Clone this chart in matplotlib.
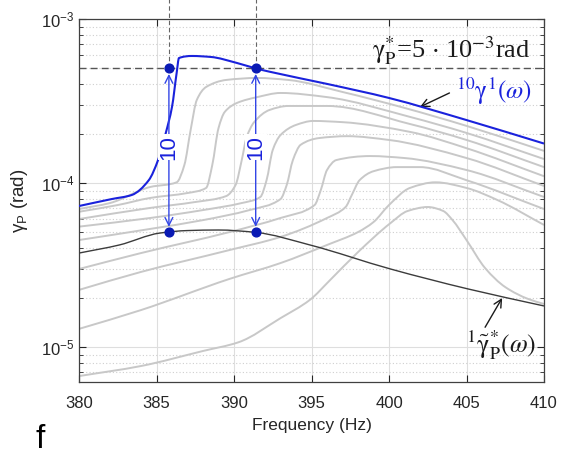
import numpy as np
import matplotlib
matplotlib.use("Agg")
import matplotlib.pyplot as plt
from matplotlib.path import Path
from matplotlib.patches import PathPatch

plt.rcParams['font.family'] = ['Liberation Sans', 'DejaVu Sans']
plt.rcParams['mathtext.fontset'] = 'custom'
plt.rcParams['mathtext.rm'] = 'Liberation Sans'
plt.rcParams['mathtext.it'] = 'Liberation Sans:italic'
plt.rcParams['mathtext.bf'] = 'Liberation Sans:bold'

# ---------------- data ----------------
f10 = [380, 382.1, 383.4, 384.5, 385.1, 385.6, 386.0, 386.3, 386.45, 387.3, 388.5, 390.2, 391.4, 392.3, 396, 400, 405, 410]
g10 = [7.24e-5, 7.98e-5, 8.45e-5, 1.04e-4, 1.38e-4, 2.02e-4, 2.91e-4, 4.69e-4, 5.78e-4, 5.95e-4, 5.87e-4, 5.39e-4, 5.0e-4, 4.77e-4, 4.02e-4, 3.30e-4, 2.42e-4, 1.74e-4]

f9 = [380, 382, 384.6, 386.3, 386.8, 387.2, 387.6, 388.2, 389.5, 391.5, 393.5, 397, 401, 405, 410]
g9 = [6.94e-5, 7.55e-5, 9.46e-5, 1.01e-4, 1.29e-4, 2.10e-4, 3.21e-4, 3.85e-4, 4.25e-4, 4.37e-4, 4.25e-4, 3.59e-4, 2.87e-4, 2.23e-4, 1.57e-4]

f8 = [380, 382.5, 384.6, 387, 388.2, 388.6, 389.0, 389.4, 390.2, 391.5, 393, 396, 401.35, 405, 410]
g8 = [6.68e-5, 7.34e-5, 8.11e-5, 8.69e-5, 9.33e-5, 1.29e-4, 2.16e-4, 2.71e-4, 3.08e-4, 3.34e-4, 3.54e-4, 3.34e-4, 2.53e-4, 2.02e-4, 1.40e-4]

f7 = [380, 384.6, 387.5, 389.5, 390.1, 390.5, 390.8, 391.3, 392.3, 393.5, 396, 401.35, 405, 410]
g7 = [6.03e-5, 7.05e-5, 7.66e-5, 8.33e-5, 9.72e-5, 1.38e-4, 1.88e-4, 2.35e-4, 2.79e-4, 2.95e-4, 2.95e-4, 2.29e-4, 1.83e-4, 1.25e-4]

f6 = [380, 384.6, 388, 390.5, 391.7, 392.1, 392.5, 393, 394, 395.1, 397, 401.35, 405, 410]
g6 = [5.42e-5, 6.12e-5, 6.84e-5, 7.55e-5, 8.22e-5, 1.04e-4, 1.59e-4, 1.96e-4, 2.26e-4, 2.39e-4, 2.35e-4, 2.05e-4, 1.63e-4, 1.10e-4]

f5 = [380, 384.6, 388, 391, 393.0, 393.4, 393.8, 394.3, 395.5, 397.3, 400, 405, 410]
g5 = [4.49e-5, 5.25e-5, 5.94e-5, 6.84e-5, 7.98e-5, 9.72e-5, 1.38e-4, 1.71e-4, 1.88e-4, 1.93e-4, 1.83e-4, 1.42e-4, 9.59e-5]

f4 = [380, 384, 389.7, 393, 395.2, 395.6, 396.0, 396.6, 398.8, 401, 405, 410]
g4 = [2.99e-5, 3.74e-5, 5.02e-5, 6.12e-5, 7.34e-5, 9.06e-5, 1.20e-4, 1.38e-4, 1.46e-4, 1.42e-4, 1.20e-4, 8.22e-5]

f3 = [380, 384, 389.7, 393, 396, 397.2, 397.6, 398.1, 399, 400.5, 402, 405, 410]
g3 = [2.23e-5, 2.87e-5, 3.90e-5, 4.69e-5, 6.12e-5, 7.14e-5, 8.45e-5, 1.04e-4, 1.18e-4, 1.25e-4, 1.25e-4, 1.04e-4, 6.94e-5]

f2 = [380, 384, 389.7, 393, 396, 398, 399, 400, 401.35, 403, 405, 407, 410]
g2 = [1.29e-5, 1.68e-5, 2.60e-5, 3.25e-5, 4.19e-5, 5.02e-5, 5.78e-5, 7.34e-5, 9.33e-5, 1.01e-4, 9.33e-5, 7.87e-5, 5.55e-5]

f1 = [380, 384, 388, 390.3, 393, 394.9, 396.2, 398, 400.1, 401.2, 402.5, 403.5, 404.1, 405, 406.2, 407.5, 409, 410]
g1 = [6.65e-6, 7.66e-6, 9.46e-6, 1.07e-5, 1.50e-5, 1.94e-5, 2.56e-5, 3.79e-5, 5.70e-5, 6.75e-5, 7.14e-5, 6.75e-5, 5.94e-5, 4.49e-5, 3.03e-5, 2.32e-5, 1.96e-5, 1.83e-5]

fk = [380, 382.6, 385.2, 387, 389, 391.4, 394.9, 400.1, 405.1, 410]
gk = [3.74e-5, 4.19e-5, 4.95e-5, 5.13e-5, 5.17e-5, 5.0e-5, 4.19e-5, 2.99e-5, 2.26e-5, 1.78e-5]

dot_f = [385.8, 391.4]
dot_hi = 5e-4
dot_lo = 5e-5

xticks = [380, 385, 390, 395, 400, 405, 410]
yticks = [1e-5, 1e-4, 1e-3]
ytick_labels = ['$10^{-5}$', '$10^{-4}$', '$10^{-3}$']


def smooth_path(fx, gy):
    """Bezier path through the read points (monotone cubic in log space)."""
    x = np.asarray(fx, float)
    y = np.log10(np.asarray(gy, float))
    h = np.diff(x)
    d = np.diff(y) / h
    m = np.zeros_like(x)
    m[0], m[-1] = d[0], d[-1]
    for k in range(1, len(x) - 1):
        if d[k - 1] * d[k] <= 0:
            m[k] = 0.0
        else:
            w1 = 2 * h[k] + h[k - 1]
            w2 = h[k] + 2 * h[k - 1]
            m[k] = (w1 + w2) / (w1 / d[k - 1] + w2 / d[k])
    verts = [(x[0], 10 ** y[0])]
    codes = [Path.MOVETO]
    for i in range(len(x) - 1):
        verts += [(x[i] + h[i] / 3, 10 ** (y[i] + m[i] * h[i] / 3)),
                  (x[i + 1] - h[i] / 3, 10 ** (y[i + 1] - m[i + 1] * h[i] / 3)),
                  (x[i + 1], 10 ** y[i + 1])]
        codes += [Path.CURVE4] * 3
    return Path(verts, codes)


# ---------------- figure ----------------
W, H = 566, 458
fig = plt.figure(figsize=(W / 100, H / 100), dpi=100)
ax = fig.add_axes([79 / W, 1 - 382 / H, (544 - 79) / W, (382 - 19) / H])
ax.set_yscale('log')
ax.set_xlim(380, 410)
ax.set_ylim(6.12e-6, 1e-3)

gray = '#c8c8c8'
for fx, gy in [(f1, g1), (f2, g2), (f3, g3), (f4, g4), (f5, g5), (f6, g6), (f7, g7), (f8, g8), (f9, g9)]:
    ax.add_patch(PathPatch(smooth_path(fx, gy), fill=False, edgecolor=gray, lw=1.4, zorder=2,
                           transform=ax.transData))
ax.add_patch(PathPatch(smooth_path(fk, gk), fill=False, edgecolor='#3c3c3c', lw=1.0, zorder=3,
                       transform=ax.transData))
ax.add_patch(PathPatch(smooth_path(f10, g10), fill=False, edgecolor='#1a22dc', lw=1.5, zorder=4,
                       transform=ax.transData))

# reference lines
ax.axhline(dot_hi, color='#555555', lw=1.0, ls=(0, (5, 3)), zorder=3)
for fx in dot_f:
    ax.plot([fx, fx], [dot_hi, 1.32e-3], color='#666666', lw=0.8, ls=(0, (4, 2.5)), clip_on=False, zorder=3)
    ax.annotate('', xy=(fx, dot_hi), xytext=(fx, dot_lo),
                arrowprops=dict(arrowstyle='<->', color='#3346e6', lw=1.0, shrinkA=4, shrinkB=4,
                                mutation_scale=14), zorder=5)
    ax.text(fx, 1.65e-4, '10', color='#1a22dc', fontsize=16, rotation=90, ha='center', va='center',
            bbox=dict(facecolor='white', edgecolor='none', pad=0.5), zorder=6)
ax.plot(dot_f, [dot_hi] * 2, 'o', color='#0a1ab4', ms=6.3, zorder=7)
ax.plot(dot_f, [dot_lo] * 2, 'o', color='#0a1ab4', ms=6.3, zorder=7)

# annotations
ax.text(409.1, 6.4e-4, r'$\mathrm{\gamma}_{\mathrm{P}}^{*}$=5 $\cdot$ 10$^{-3}$rad', fontsize=19, ha='right',
        va='center', family=['Liberation Serif'], math_fontfamily='stix', color='#1a1a1a', zorder=6)
ax.text(404.3, 3.6e-4, r'$^{10}\mathrm{\gamma}^{1}(\omega)$', fontsize=18, ha='left', va='center',
        color='#1a22dc', math_fontfamily='stix', zorder=6)
ax.annotate('', xy=(402.0, 2.91e-4), xytext=(403.9, 3.54e-4),
            arrowprops=dict(arrowstyle='->', color='#1a1a1a', lw=1.0, mutation_scale=14, shrinkA=0, shrinkB=0))
ax.text(409.5, 1.03e-5, r'$^{1}\tilde{\mathrm{\gamma}}_{\mathrm{P}}^{*}(\omega)$', fontsize=18.5, ha='right',
        va='center', color='#1a1a1a', math_fontfamily='stix', zorder=6)
ax.annotate('', xy=(407.3, 1.99e-5), xytext=(406.2, 1.32e-5),
            arrowprops=dict(arrowstyle='->', color='#1a1a1a', lw=1.0, mutation_scale=14, shrinkA=0, shrinkB=0))

# axes styling
ax.set_xticks(xticks)
ax.set_xticklabels([str(t) for t in xticks])
ax.set_yticks(yticks)
ax.set_yticklabels(ytick_labels)
ax.yaxis.set_minor_locator(matplotlib.ticker.LogLocator(base=10, subs=np.arange(2, 10)))
ax.yaxis.set_minor_formatter(matplotlib.ticker.NullFormatter())
ax.tick_params(which='both', direction='in', top=True, right=True, labelsize=12, colors='#262626')
ax.tick_params(which='major', length=5)
ax.tick_params(which='minor', length=3)
ax.tick_params(axis='x', pad=10)
ax.grid(True, which='major', color='#dedede', lw=0.8, ls='-')
ax.grid(True, which='minor', axis='y', color='#cfcfcf', lw=0.8, ls=(0, (1, 2)))
ax.set_axisbelow(True)
for s in ax.spines.values():
    s.set_color('#404040')
    s.set_linewidth(0.9)

ax.set_xlabel('Frequency (Hz)', fontsize=12.5, color='#262626')
ax.xaxis.set_label_coords(0.5, -0.1)
ax.set_ylabel('γ$_\\mathrm{P}$ (rad)', fontsize=13.5, color='#262626')
ax.yaxis.set_label_coords(-0.105, 0.5)

fig.text(40 / W, 1 - 440 / H, 'f', fontsize=24, ha='center', va='center')

fig.savefig('out.png', dpi=100)
